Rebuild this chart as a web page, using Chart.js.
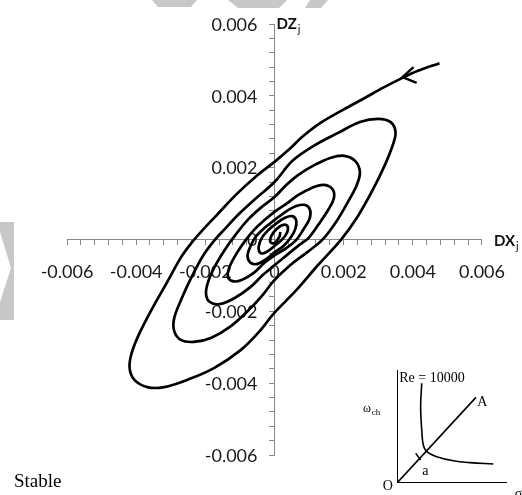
<!DOCTYPE html>
<html>
<head>
<meta charset="utf-8">
<script src="https://cdn.jsdelivr.net/npm/chart.js@4.4.1/dist/chart.umd.min.js"></script>
<style>
  html, body { margin: 0; padding: 0; background: #fff; }
  #wrap { position: relative; width: 522px; height: 495px; overflow: hidden; }
  #main { position: absolute; left: 0; top: 0; }
  #inset { position: absolute; left: 350px; top: 355px; }
  #stable { position: absolute; left: 14px; top: 470px; font: 19px "Liberation Serif", serif; color: #000; }
</style>
</head>
<body>
<div id="wrap">
  <canvas id="main" width="522" height="495"></canvas>
  <canvas id="inset" width="172" height="140"></canvas>
  <div id="stable">Stable</div>
</div>
<script>
// trajectory DX_j / DZ_j (outer arm -> centre)
const dxj = [
  0.00477, 0.00413, 0.00370, 0.00313, 0.00261, 0.00198, 0.00132, 0.00083, 0.00040, 0,
  -0.00052, -0.00109, -0.00167, -0.00210, -0.00238, -0.00270, -0.00310, -0.00353, -0.00390, -0.00413,
  -0.00419, -0.00405, -0.00368, -0.00319, -0.00253, -0.00175, -0.00098, -0.00040, -0.00003, 0.00063,
  0.00126, 0.00192, 0.00241, 0.00284, 0.00319, 0.00342, 0.00350, 0.00336, 0.00299, 0.00247,
  0.00184, 0.00112, 0.00052, 0, -0.00052, -0.00103, -0.00146, -0.00175, -0.00207, -0.00241,
  -0.00270, -0.00290, -0.00290, -0.00270, -0.00233, -0.00184, -0.00126, -0.00069, -0.00032, -0.00003,
  0.00046, 0.00095, 0.00138, 0.00178, 0.00212, 0.00238, 0.00247, 0.00233, 0.00201, 0.00161,
  0.00115, 0.00069, 0.00034, 0, -0.00040, -0.00078, -0.00115, -0.00144, -0.00172, -0.00192,
  -0.00198, -0.00187, -0.00158, -0.00115, -0.00069, -0.00034, -0.00003, 0.00040, 0.00072, 0.00098,
  0.00126, 0.00155, 0.00172, 0.00167, 0.00141, 0.00106, 0.00069, 0.00034, 0, -0.00029,
  -0.00057, -0.00083, -0.00109, -0.00129, -0.00135, -0.00121, -0.00095, -0.00060, -0.00029, -0.00003,
  0.00034, 0.00063, 0.00083, 0.00101, 0.00103, 0.00089, 0.00063, 0.00032, 0, -0.00029,
  -0.00055, -0.00069, -0.00078, -0.00069, -0.00049, -0.00023, -0.00003, 0.00026, 0.00046, 0.00060,
  0.00063, 0.00052, 0.00029, 0.00003, -0.00017, -0.00037, -0.00046, -0.00040, -0.00023, 0,
  0.00023, 0.00037, 0.00037, 0.00023, 0.00006, -0.00009, -0.00012, 0, 0.00014, 0.00017
];
const dzj = [
  0.00491, 0.00469, 0.00450, 0.00422, 0.00394, 0.00361, 0.00324, 0.00288, 0.00249, 0.00216,
  0.00177, 0.00127, 0.00068, 0.00024, -0.00007, -0.00049, -0.00118, -0.00191, -0.00260, -0.00316,
  -0.00358, -0.00391, -0.00411, -0.00411, -0.00391, -0.00358, -0.00308, -0.00252, -0.00207, -0.00141,
  -0.00071, -0.00001, 0.00065, 0.00138, 0.00207, 0.00263, 0.00299, 0.00327, 0.00336, 0.00327,
  0.00297, 0.00260, 0.00219, 0.00160, 0.00116, 0.00071, 0.00027, -0.00004, -0.00046, -0.00107,
  -0.00168, -0.00219, -0.00255, -0.00280, -0.00285, -0.00274, -0.00241, -0.00191, -0.00152, -0.00116,
  -0.00071, -0.00035, -0.00001, 0.00049, 0.00104, 0.00152, 0.00188, 0.00219, 0.00233, 0.00227,
  0.00207, 0.00180, 0.00152, 0.00118, 0.00088, 0.00054, 0.00010, -0.00029, -0.00074, -0.00118,
  -0.00152, -0.00174, -0.00180, -0.00163, -0.00132, -0.00099, -0.00074, -0.00040, -0.00015, 0.00004,
  0.00040, 0.00082, 0.00116, 0.00141, 0.00152, 0.00143, 0.00124, 0.00099, 0.00077, 0.00054,
  0.00029, -0.00001, -0.00038, -0.00074, -0.00102, -0.00116, -0.00113, -0.00093, -0.00065, -0.00046,
  -0.00024, -0.00001, 0.00027, 0.00057, 0.00082, 0.00096, 0.00093, 0.00077, 0.00054, 0.00032,
  0.00007, -0.00018, -0.00046, -0.00065, -0.00068, -0.00054, -0.00038, -0.00018, 0.00004, 0.00029,
  0.00052, 0.00065, 0.00060, 0.00043, 0.00027, 0.00004, -0.00021, -0.00038, -0.00035, -0.00018,
  0.00001, 0.00021, 0.00038, 0.00040, 0.00029, 0.00010, -0.00007, -0.00010, 0.00007, 0.00021
];
// arrowhead on the incoming arm (wing, tip, wing)
const arrowX = [0.00402, 0.00370, 0.00411];
const arrowZ = [0.00480, 0.00452, 0.00436];

const tickLabels = [-0.006, -0.004, -0.002, 0, 0.002, 0.004, 0.006];

// inset sketch (arbitrary 0..1 units)
const insetFrameX = [0, 0, 1];
const insetFrameY = [1, 0, 0];
const insetLineX = [0, 0.718];
const insetLineY = [0, 0.758];
const insetCurveX = [0.225, 0.215, 0.225, 0.239, 0.270, 0.361, 0.512, 0.664, 0.875];
const insetCurveY = [0.882, 0.675, 0.469, 0.336, 0.277, 0.233, 0.197, 0.180, 0.168];
const insetMarkX = [0.170, 0.215];
const insetMarkY = [0.263, 0.203];

const axisGray = '#888888';
const labelFont = { family: 'Lato', size: 18 };

function toPts(xs, ys) {
  return xs.map((x, i) => ({ x: x, y: ys[i] }));
}

function labelFor(v) {
  const hit = tickLabels.find(t => Math.abs(t - v) < 1e-9);
  if (hit === undefined) return '';
  return hit === 0 ? '0' : hit.toFixed(3);
}

const decor = {
  id: 'decor',
  beforeDraw(chart) {
    const ctx = chart.ctx;
    ctx.save();
    ctx.fillStyle = '#c8c8c8';
    [[[152,0],[197,0],[191,7],[158,7]],
     [[228,0],[287,0],[279,8],[238,8]],
     [[310,0],[328,0],[321,8],[305,8]],
     [[0,222],[14,222],[14,320],[0,320]]].forEach(poly => {
      ctx.beginPath();
      poly.forEach((p, i) => i ? ctx.lineTo(p[0], p[1]) : ctx.moveTo(p[0], p[1]));
      ctx.closePath();
      ctx.fill();
    });
    ctx.fillStyle = '#fff';
    ctx.beginPath();
    ctx.moveTo(0, 232); ctx.lineTo(11, 268); ctx.lineTo(0, 302);
    ctx.closePath();
    ctx.fill();
    ctx.restore();
  },
  // y labels sit left of the centred axis, under the curve
  beforeDatasetsDraw(chart) {
    const ctx = chart.ctx;
    const x0 = chart.scales.x.getPixelForValue(0);
    ctx.save();
    ctx.fillStyle = '#1a1a1a';
    ctx.font = '18px Lato';
    ctx.textAlign = 'right';
    ctx.textBaseline = 'middle';
    tickLabels.forEach(v => {
      ctx.fillText(labelFor(v), x0 - 17, chart.scales.y.getPixelForValue(v) + 1);
    });
    ctx.restore();
  },
  afterDraw(chart) {
    const ctx = chart.ctx;
    const x0 = chart.scales.x.getPixelForValue(0);
    const y0 = chart.scales.y.getPixelForValue(0);
    const top = chart.chartArea.top;
    const right = chart.chartArea.right;
    ctx.save();
    ctx.fillStyle = '#111';
    ctx.textBaseline = 'alphabetic';
    ctx.textAlign = 'left';
    ctx.font = 'bold 15px Lato';
    ctx.fillText('DZ', x0 + 2, top + 5);
    const w1 = ctx.measureText('DZ').width;
    ctx.font = '11px Lato';
    ctx.fillText('j', x0 + 3 + w1, top + 9);
    ctx.font = 'bold 15px Lato';
    ctx.fillText('DX', right + 12, y0 + 6);
    const w2 = ctx.measureText('DX').width;
    ctx.font = '11px Lato';
    ctx.fillText('j', right + 13 + w2, y0 + 10);
    ctx.restore();
  }
};

new Chart(document.getElementById('main'), {
  type: 'scatter',
  data: {
    datasets: [
      { data: toPts(dxj, dzj), showLine: true, borderColor: '#000', borderWidth: 2.7,
        pointRadius: 0, tension: 0.35, fill: false },
      { data: toPts(arrowX, arrowZ), showLine: true, borderColor: '#000', borderWidth: 2.4,
        pointRadius: 0, tension: 0, fill: false }
    ]
  },
  options: {
    responsive: false,
    animation: false,
    devicePixelRatio: 1,
    layout: { padding: { left: 67, right: 37, top: 24, bottom: 40 } },
    plugins: { legend: { display: false }, tooltip: { enabled: false } },
    scales: {
      x: {
        type: 'linear', min: -0.006, max: 0.006, position: { y: 0 },
        afterFit: s => { s.height = 0; },
        grid: { drawOnChartArea: false, drawTicks: true, tickLength: 5, color: axisGray },
        border: { color: axisGray, width: 1 },
        ticks: { stepSize: 0.0004, autoSkip: false, maxRotation: 0, padding: 17,
                 font: labelFont, color: '#1a1a1a', callback: labelFor }
      },
      y: {
        type: 'linear', min: -0.006, max: 0.006, position: { x: 0 },
        afterFit: s => { s.width = 0; },
        grid: { drawOnChartArea: false, drawTicks: true, tickLength: 5, color: axisGray },
        border: { color: axisGray, width: 1 },
        ticks: { stepSize: 0.0004, autoSkip: false, callback: () => '' }
      }
    }
  },
  plugins: [decor]
});

const insetText = {
  id: 'insetText',
  afterDraw(chart) {
    const ctx = chart.ctx;
    const sx = chart.scales.x, sy = chart.scales.y;
    ctx.save();
    ctx.fillStyle = '#000';
    ctx.textBaseline = 'alphabetic';
    ctx.font = '14px "Liberation Serif"';
    ctx.fillText('Re = 10000', sx.getPixelForValue(0.02), sy.getPixelForValue(0.89));
    ctx.fillText('A', sx.getPixelForValue(0.73), sy.getPixelForValue(0.68));
    ctx.fillText('a', sx.getPixelForValue(0.23), sy.getPixelForValue(0.07));
    ctx.fillText('O', sx.getPixelForValue(-0.13), sy.getPixelForValue(-0.06));
    ctx.fillText('\u03c3', sx.getPixelForValue(1.07), sy.getPixelForValue(-0.13));
    ctx.font = '12px "Liberation Serif"';
    ctx.fillText('\u03c9', sx.getPixelForValue(-0.31), sy.getPixelForValue(0.63));
    ctx.font = '9px "Liberation Serif"';
    ctx.fillText('ch', sx.getPixelForValue(-0.23), sy.getPixelForValue(0.60));
    ctx.restore();
  }
};

new Chart(document.getElementById('inset'), {
  type: 'scatter',
  data: {
    datasets: [
      { data: toPts(insetFrameX, insetFrameY), showLine: true, borderColor: '#000', borderWidth: 2, pointRadius: 0 },
      { data: toPts(insetLineX, insetLineY), showLine: true, borderColor: '#000', borderWidth: 1.6, pointRadius: 0 },
      { data: toPts(insetCurveX, insetCurveY), showLine: true, borderColor: '#000', borderWidth: 1.6, pointRadius: 0, tension: 0.4 },
      { data: toPts(insetMarkX, insetMarkY), showLine: true, borderColor: '#000', borderWidth: 1.4, pointRadius: 0 }
    ]
  },
  options: {
    responsive: false,
    animation: false,
    devicePixelRatio: 1,
    layout: { padding: { left: 47, right: 15, top: 15, bottom: 12 } },
    plugins: { legend: { display: false }, tooltip: { enabled: false } },
    scales: {
      x: { type: 'linear', min: 0, max: 1, display: false },
      y: { type: 'linear', min: 0, max: 1, display: false }
    }
  },
  plugins: [insetText]
});
</script>
</body>
</html>
